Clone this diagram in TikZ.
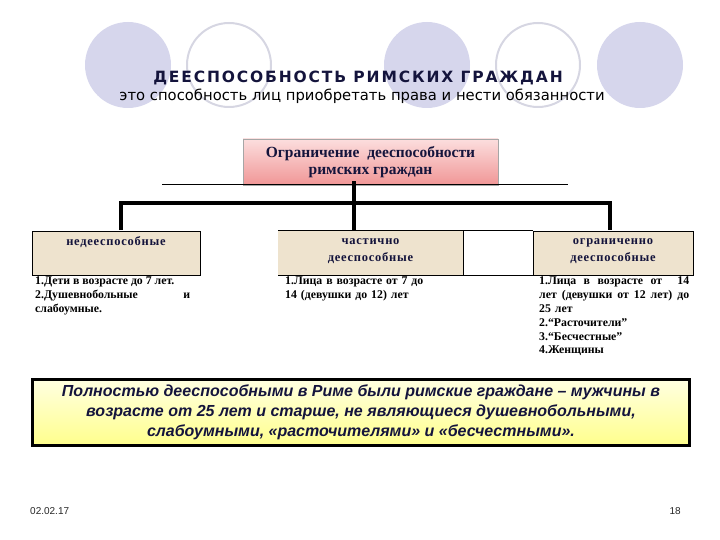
\documentclass[tikz,border=0pt]{standalone}
\usepackage{fontspec}
\setmainfont{Liberation Serif}
\newfontfamily\titlefont[LetterSpace=12]{DejaVu Sans}
\newfontfamily\subfont{DejaVu Sans}
\newfontfamily\catfont[LetterSpace=6]{Liberation Serif}
\newfontfamily\arialfont{Liberation Sans}
\definecolor{circfill}{RGB}{214,214,236}
\definecolor{circline}{RGB}{214,214,226}
\definecolor{navy}{RGB}{20,20,60}
\definecolor{tan}{RGB}{238,227,206}
\definecolor{pinktop}{RGB}{252,222,222}
\definecolor{pinkbot}{RGB}{240,150,150}
\definecolor{yeltop}{RGB}{255,255,225}
\definecolor{yelbot}{RGB}{255,255,140}
\tikzset{
  fullcirc/.style={circle, fill=circfill, minimum size=86pt, inner sep=0pt},
  ringcirc/.style={circle, draw=circline, line width=2pt, minimum size=84pt, inner sep=0pt},
  headbox/.style={rectangle, draw=gray!70, top color=pinktop, bottom color=pinkbot,
    minimum width=255pt, minimum height=46pt, inner sep=0pt, align=center,
    font=\fontsize{15.5}{17}\selectfont\bfseries, text=navy},
  catbox/.style={rectangle, fill=tan, inner sep=0pt, minimum height=44pt},
  cattext/.style={font=\catfont\fontsize{12.5}{17}\selectfont\bfseries, text=navy, align=center, inner sep=0pt},
  listtext/.style={font=\fontsize{11.8}{13.8}\selectfont\bfseries, text=black, anchor=north west,
    inner sep=0pt},
  thickline/.style={line width=3.5pt, line cap=rect},
}
\begin{document}
\begin{tikzpicture}[x=1pt,y=-1pt]
\useasboundingbox (0,0) rectangle (720,540);
% decorative circles
\node[fullcirc] (c1) at (128,65) {};
\node[ringcirc] (c2) at (229,65) {};
\node[fullcirc] (c3) at (427,65) {};
\node[ringcirc] (c4) at (538,65) {};
\node[fullcirc] (c5) at (640,65) {};
% title
\node[font=\titlefont\fontsize{15.5}{18}\selectfont\bfseries, text=navy] (title) at (358,78) {ДЕЕСПОСОБНОСТЬ РИМСКИХ ГРАЖДАН};
\node[font=\subfont\fontsize{14.8}{16}\selectfont, text=black] (sub) at (362,96) {это способность лиц приобретать права и нести обязанности};
% head box
\node[headbox] (head) at (370.5,162) {Ограничение\ \ дееспособности\\римских граждан};
\coordinate (tl) at (162,185);
\coordinate (tr) at (568,185);
\draw[line width=1pt] (tl) -- (tr);
% connectors
\coordinate (j0) at (354,183);
\coordinate (jm) at (354,203);
\coordinate (jb) at (354,228);
\coordinate (jl) at (121,203);
\coordinate (jlb) at (121,228);
\coordinate (jr) at (610,203);
\coordinate (jrb) at (610,228);
\draw[thickline] (j0) -- (jb);
\draw[thickline] (jlb) -- (jl) -- (jr) -- (jrb);
% category boxes
\node[catbox, draw=black, line width=0.8pt, minimum width=168pt] (b1) at (116,253) {};
\node[catbox, minimum width=185pt] (b2) at (370.5,253) {};
\node[catbox, draw=black, line width=0.8pt, minimum width=160pt] (b3) at (613,253) {};
\node[rectangle, minimum width=70pt, minimum height=44pt, inner sep=0pt] (gap) at (498,253) {};
\draw[line width=0.8pt] (b2.north west) -- (b2.north east) -- (b2.south east) -- (b2.south west);
\draw[line width=0.8pt] (gap.north west) -- (gap.north east);
\draw[line width=0.8pt] (gap.south west) -- (gap.south east);
\node[cattext] (t1) at (116,242) {недееспособные};
\node[cattext] (t2) at (370.5,251) {частично\\дееспособные};
\node[cattext] (t3) at (613,251) {ограниченно\\дееспособные};
% lists
\node[listtext, text width=155pt, align=justify] (l1) at (35,277) {1.Дети в возрасте до 7 лет.\\ 2.Душевнобольные\hfill и\\ слабоумные.};
\node[listtext, text width=150pt, align=left] (l2) at (285,277) {1.Лица в возрасте от 7 до\\ 14 (девушки до 12) лет};
\node[listtext, text width=150pt, align=left] (l3) at (539,277) {1.Лица\hfill в\hfill возрасте\hfill от\ \ \hfill 14\\ лет\hfill (девушки\hfill от\hfill 12\hfill лет)\hfill до\\ 25 лет\\ 2.“Расточители”\\ 3.“Бесчестные”\\ 4.Женщины};
% note box
\node[rectangle, draw=black, line width=3pt, top color=yeltop, bottom color=yelbot,
  minimum width=657pt, minimum height=66pt, inner sep=0pt] (note) at (361,412.5) {};
\node[font=\arialfont\fontsize{16}{20}\selectfont\bfseries\itshape, text=navy, align=center] (notetext) at (note.center)
 {Полностью дееспособными в Риме были римские граждане – мужчины в\\ возрасте от 25 лет и старше, не являющиеся душевнобольными,\\ слабоумными, «расточителями» и «бесчестными».};
% footer
\node[font=\arialfont\fontsize{10}{12}\selectfont, text=black!85, anchor=west, inner sep=0pt] (date) at (30,511) {02.02.17};
\node[font=\arialfont\fontsize{10}{12}\selectfont, text=black!85, anchor=east, inner sep=0pt] (page) at (681,511) {18};
\end{tikzpicture}
\end{document}
